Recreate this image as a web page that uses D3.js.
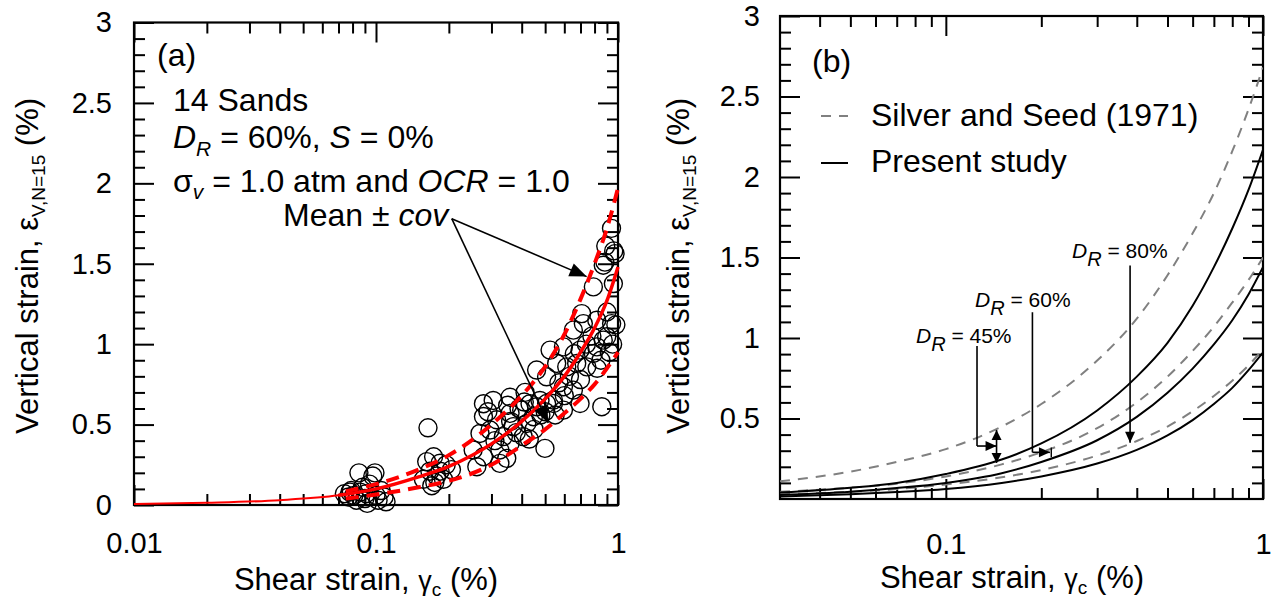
<!DOCTYPE html>
<html><head><meta charset="utf-8">
<script src="https://cdn.jsdelivr.net/npm/d3@7"></script>
<style>
body{margin:0;background:#fff}
svg text{font-family:"Liberation Sans",Arial,Helvetica,sans-serif;fill:#000}
</style></head><body>
<svg id="c" width="1273" height="601"></svg>
<script>
// ---------- Panel (a) data ----------
const sandGamma = [0.074,0.077,0.079,0.081,0.083,0.085,0.086,0.088,0.09,0.091,0.094,0.097,0.099,0.1,0.102,0.105,0.108,0.11,0.092,0.078,
  0.164,0.162,0.173,0.184,0.167,0.157,0.175,0.19,0.205,0.184,0.17,0.178,0.195,
  0.278,0.305,0.358,0.413,0.278,0.315,0.358,0.40,0.433,0.476,0.269,0.296,0.336,0.369,0.42,0.447,0.252,0.278,0.325,0.358,0.406,0.261,0.325,0.347,0.499,0.461,0.507,0.541,
  0.38,0.43,0.39,0.31,0.29,0.35,0.45,0.48,0.36,0.41,
  0.708,0.654,0.719,0.817,0.941,0.869,0.595,0.697,0.791,0.524,0.558,0.461,0.507,0.614,0.675,0.743,0.595,0.654,0.697,0.595,0.541,0.857,0.791,0.957,0.869,0.972,0.817,0.898,
  0.94,0.89,0.96,0.883,0.95,0.98,0.92,0.85,0.78,0.63,0.57,0.66,0.74,0.9,0.82,0.7,0.6,0.55,0.5];
const sandStrain = [0.07,0.05,0.09,0.06,0.03,0.2,0.08,0.11,0.04,0.07,0.13,0.18,0.2,0.06,0.03,0.09,0.05,0.02,0.01,0.08,
  0.48,0.27,0.30,0.26,0.21,0.16,0.14,0.16,0.22,0.21,0.12,0.18,0.25,
  0.63,0.65,0.67,0.70,0.55,0.53,0.57,0.59,0.63,0.65,0.445,0.466,0.425,0.487,0.507,0.549,0.342,0.30,0.342,0.383,0.425,0.238,0.259,0.29,0.352,0.611,0.631,0.652,
  0.45,0.41,0.60,0.40,0.58,0.62,0.47,0.56,0.52,0.64,
  1.19,1.087,1.128,1.149,1.128,1.025,0.983,0.963,0.942,0.963,0.88,0.839,0.797,0.859,0.88,0.859,0.735,0.714,0.631,0.59,0.631,0.611,1.356,1.377,1.491,1.563,0.983,1.046,
  1.72,1.61,1.58,1.51,1.0,1.12,0.95,0.9,1.05,0.8,0.76,0.94,1.0,1.2,0.85,0.78,0.68,0.56,0.58];

const meanGamma  = [0.01,0.02,0.04,0.07,0.1,0.15,0.2,0.3,0.4,0.5,0.6,0.7,0.8,0.9,1.0];
const meanStrain = [0.006,0.014,0.03,0.06,0.1,0.175,0.24,0.38,0.52,0.66,0.80,0.95,1.10,1.27,1.48];
const boundGamma = [0.075,0.1,0.15,0.2,0.3,0.4,0.5,0.6,0.7,0.8,0.9,1.0];
const upperStrain = [0.085,0.13,0.22,0.31,0.50,0.68,0.86,1.06,1.28,1.50,1.72,1.97];
const lowerStrain = [0.04,0.065,0.11,0.15,0.25,0.37,0.47,0.57,0.66,0.75,0.85,0.95];

// ---------- Panel (b) data ----------
const bGamma = [0.03,0.05,0.07,0.1,0.15,0.2,0.3,0.4,0.5,0.6,0.7,0.8,0.9,1.0];
const silverSeed45 = [0.11,0.17,0.23,0.31,0.45,0.59,0.86,1.12,1.39,1.65,1.90,2.16,2.42,2.68];
const silverSeed60 = [0.045,0.07,0.095,0.14,0.215,0.29,0.44,0.60,0.76,0.92,1.07,1.22,1.36,1.50];
const silverSeed80 = [0.03,0.045,0.062,0.09,0.135,0.18,0.27,0.36,0.45,0.545,0.64,0.735,0.83,0.93];
const present45 = [0.04,0.07,0.10,0.155,0.245,0.345,0.55,0.76,0.97,1.20,1.44,1.68,1.92,2.17];
const present60 = [0.025,0.045,0.068,0.10,0.16,0.23,0.365,0.51,0.66,0.81,0.96,1.11,1.27,1.44];
const present80 = [0.016,0.03,0.043,0.062,0.10,0.14,0.22,0.305,0.395,0.49,0.59,0.69,0.80,0.91];

// ticks
const aXMajor = [0.01,0.1,1];
const aXMinor = [0.02,0.03,0.04,0.05,0.06,0.07,0.08,0.09,0.2,0.3,0.4,0.5,0.6,0.7,0.8,0.9];
const bXMajor = [0.1,1];
const bXMinor = [0.04,0.05,0.06,0.07,0.08,0.09,0.2,0.3,0.4,0.5,0.6,0.7,0.8,0.9];
const aYMajor = [0,0.5,1,1.5,2,2.5,3];
const bYMajor = [0.5,1,1.5,2,2.5,3];
const yMinor = d3.range(1,30).filter(i=>i%5!==0).map(i=>i/10);

const svg = d3.select('#c');
const FS = 29, TS = 31, AS = 32;

const xA = d3.scaleLog().domain([0.01,1]).range([134,618]);
const yA = d3.scaleLinear().domain([0,3]).range([505,22.5]);
const xB = d3.scaleLog().domain([0.03,1]).range([780,1263]);
const yB = d3.scaleLinear().domain([0,3]).range([499,16]);

function frame(x, y, xMaj, xMin, yMaj, yMinV, padX, padY){
  const g = svg.append('g');
  const [x0,x1] = x.range(), [y0,y1] = y.range();
  const fmt = d => String(d);
  const add = (axis, tr) => {
    const a = g.append('g').attr('transform', tr).call(axis);
    a.select('.domain').remove();
    a.selectAll('line').attr('stroke','#000').attr('stroke-width',2);
    a.selectAll('text').attr('font-size',FS).attr('font-family','"Liberation Sans",Arial,sans-serif').attr('fill','#000');
    return a;
  };
  add(d3.axisBottom(x).tickValues(xMaj).tickSize(-20).tickPadding(padX).tickFormat(fmt), `translate(0,${y0})`);
  add(d3.axisBottom(x).tickValues(xMin).tickSize(-11).tickFormat(''), `translate(0,${y0})`);
  add(d3.axisTop(x).tickValues(xMaj).tickSize(-20).tickFormat(''), `translate(0,${y1})`);
  add(d3.axisTop(x).tickValues(xMin).tickSize(-11).tickFormat(''), `translate(0,${y1})`);
  add(d3.axisLeft(y).tickValues(yMaj).tickSize(-20).tickPadding(padY).tickFormat(fmt), `translate(${x0},0)`);
  add(d3.axisLeft(y).tickValues(yMinV).tickSize(-11).tickFormat(''), `translate(${x0},0)`);
  add(d3.axisRight(y).tickValues(yMaj).tickSize(-20).tickFormat(''), `translate(${x1},0)`);
  add(d3.axisRight(y).tickValues(yMinV).tickSize(-11).tickFormat(''), `translate(${x1},0)`);
  g.append('rect').attr('x',x0).attr('y',y1).attr('width',x1-x0).attr('height',y0-y1)
    .attr('fill','none').attr('stroke','#000').attr('stroke-width',2.2);
}

function yTitle(cx, cy){
  const t = svg.append('text').attr('transform',`translate(${cx},${cy}) rotate(-90)`)
    .attr('text-anchor','middle').attr('font-size',TS);
  t.append('tspan').text('Vertical strain, ');
  t.append('tspan').text('ε');
  t.append('tspan').attr('font-size',19).attr('dy',7).text('V,N=15');
  t.append('tspan').attr('dy',-7).text(' (%)');
}
function xTitle(cx, cy){
  const t = svg.append('text').attr('x',cx).attr('y',cy).attr('text-anchor','middle').attr('font-size',TS);
  t.append('tspan').text('Shear strain, ');
  t.append('tspan').attr('font-size',27).text('γ');
  t.append('tspan').attr('font-size',19).attr('dy',6).text('c');
  t.append('tspan').attr('dy',-6).text(' (%)');
}
function arrow(g, x1,y1,x2,y2, len, wid, sw){
  g.append('line').attr('x1',x1).attr('y1',y1).attr('x2',x2).attr('y2',y2)
    .attr('stroke','#000').attr('stroke-width',sw);
  const dx=x2-x1, dy=y2-y1, L=Math.hypot(dx,dy), ux=dx/L, uy=dy/L;
  const bx=x2-ux*len, by=y2-uy*len;
  g.append('path').attr('d',`M${x2},${y2}L${bx-uy*wid/2},${by+ux*wid/2}L${bx+uy*wid/2},${by-ux*wid/2}Z`).attr('fill','#000');
}

// ================= Panel (a) =================
frame(xA, yA, aXMajor, aXMinor, aYMajor, yMinor, 27, 22);
yTitle(38, 266);
xTitle(366, 590);

const gA = svg.append('g');
gA.selectAll('circle').data(d3.zip(sandGamma, sandStrain)).join('circle')
  .attr('cx',d=>xA(d[0])).attr('cy',d=>yA(d[1])).attr('r',9)
  .attr('fill','none').attr('stroke','#000').attr('stroke-width',1.4);

const lineA = d3.line().x(d=>xA(d[0])).y(d=>yA(d[1])).curve(d3.curveMonotoneX);
const meanPts = d3.zip(meanGamma, meanStrain);
gA.append('path').attr('d',lineA(meanPts)).attr('fill','none').attr('stroke','#ff0000').attr('stroke-width',2);
gA.append('path').attr('d',lineA(meanPts.filter(d=>d[0]>=0.07))).attr('fill','none').attr('stroke','#ff0000').attr('stroke-width',3.5);
gA.append('path').attr('d',lineA(d3.zip(boundGamma, upperStrain))).attr('fill','none').attr('stroke','#ff0000').attr('stroke-width',4).attr('stroke-dasharray','13,8');
gA.append('path').attr('d',lineA(d3.zip(boundGamma, lowerStrain))).attr('fill','none').attr('stroke','#ff0000').attr('stroke-width',4).attr('stroke-dasharray','13,8');

// annotations (a)
const tA = svg.append('g');
tA.append('text').attr('x',157).attr('y',66).attr('font-size',AS).text('(a)');
tA.append('text').attr('x',173).attr('y',111).attr('font-size',AS).text('14 Sands');
let t2 = tA.append('text').attr('x',173).attr('y',148).attr('font-size',AS);
t2.append('tspan').attr('font-style','italic').text('D');
t2.append('tspan').attr('font-style','italic').attr('font-size',21).attr('dy',8).text('R');
t2.append('tspan').attr('dy',-8).text(' = 60%, ');
t2.append('tspan').attr('font-style','italic').text('S');
t2.append('tspan').text(' = 0%');
let t3 = tA.append('text').attr('x',173).attr('y',192).attr('font-size',AS);
t3.append('tspan').text('σ');
t3.append('tspan').attr('font-style','italic').attr('font-size',21).attr('dy',7).text('v');
t3.append('tspan').attr('dy',-7).text(' = 1.0 atm and ');
t3.append('tspan').attr('font-style','italic').text('OCR');
t3.append('tspan').text(' = 1.0');
let t4 = tA.append('text').attr('x',283).attr('y',226).attr('font-size',AS);
t4.append('tspan').text('Mean ± ');
t4.append('tspan').attr('font-style','italic').text('cov');
arrow(gA, xA(0.2056), yA(1.78), xA(0.742), yA(1.42), 17, 14, 1.6);
arrow(gA, xA(0.2056), yA(1.78), xA(0.515), yA(0.51), 17, 14, 1.6);

// ================= Panel (b) =================
frame(xB, yB, bXMajor, bXMinor, bYMajor, yMinor, 34, 20);
yTitle(689, 266);
xTitle(1012, 588);

svg.append('clipPath').attr('id','clipB').append('rect')
  .attr('x',780).attr('y',16).attr('width',483).attr('height',483);
const gB = svg.append('g').attr('clip-path','url(#clipB)');
const lineB = d3.line().x(d=>xB(d[0])).y(d=>yB(d[1])).curve(d3.curveMonotoneX);
[silverSeed45, silverSeed60, silverSeed80].forEach(s=>{
  gB.append('path').attr('d',lineB(d3.zip(bGamma,s))).attr('fill','none')
    .attr('stroke','#808080').attr('stroke-width',2).attr('stroke-dasharray','10,8');
});
[present45, present60, present80].forEach(s=>{
  gB.append('path').attr('d',lineB(d3.zip(bGamma,s))).attr('fill','none')
    .attr('stroke','#000').attr('stroke-width',2);
});

const tB = svg.append('g');
tB.append('text').attr('x',812).attr('y',72).attr('font-size',AS).text('(b)');
tB.append('line').attr('x1',821).attr('x2',848).attr('y1',116).attr('y2',116).attr('stroke','#808080').attr('stroke-width',2).attr('stroke-dasharray','10,8');
tB.append('text').attr('x',871).attr('y',126).attr('font-size',AS).text('Silver and Seed (1971)');
tB.append('line').attr('x1',821).attr('x2',848).attr('y1',163).attr('y2',163).attr('stroke','#000').attr('stroke-width',2);
tB.append('text').attr('x',871).attr('y',172).attr('font-size',AS).text('Present study');

function drLabel(gx, ey, txt){
  const t = tB.append('text').attr('x',xB(gx)).attr('y',yB(ey)).attr('font-size',21);
  t.append('tspan').attr('font-style','italic').text('D');
  t.append('tspan').attr('font-style','italic').attr('font-size',20).attr('dy',8).text('R');
  t.append('tspan').attr('dy',-8).text(' = ' + txt);
}
drLabel(0.0805, 0.969, '45%');
drLabel(0.1236, 1.19, '60%');
drLabel(0.25, 1.50, '80%');
// 45%
tB.append('path').attr('d',`M${xB(0.1254)},${yB(0.95)}V${yB(0.329)}`).attr('stroke','#000').attr('stroke-width',1.6).attr('fill','none');
arrow(tB, xB(0.1254), yB(0.329), xB(0.1445), yB(0.329), 11, 10, 1.6);
arrow(tB, xB(0.1445), yB(0.329), xB(0.1445), yB(0.429), 10, 10, 1.6);
arrow(tB, xB(0.1445), yB(0.329), xB(0.1445), yB(0.224), 10, 10, 1.6);
// 60%
tB.append('path').attr('d',`M${xB(0.1875)},${yB(1.16)}V${yB(0.29)}`).attr('stroke','#000').attr('stroke-width',1.6).attr('fill','none');
arrow(tB, xB(0.1875), yB(0.29), xB(0.2129), yB(0.29), 11, 10, 1.6);
tB.append('path').attr('d',`M${xB(0.215)},${yB(0.32)}V${yB(0.26)}`).attr('stroke','#000').attr('stroke-width',1.4).attr('fill','none');
// 80%
arrow(tB, xB(0.381), yB(1.45), xB(0.381), yB(0.35), 11, 10, 1.6);
</script>
</body></html>
